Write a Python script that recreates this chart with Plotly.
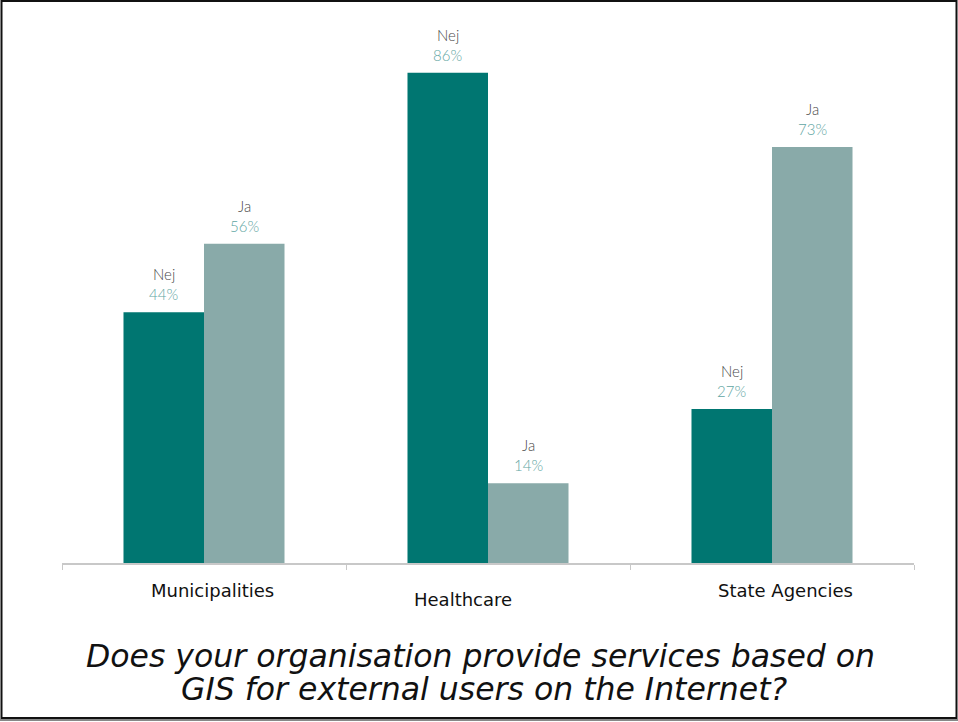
import plotly.graph_objects as go

# Survey results: share of organisations answering Nej / Ja
categories = ["Municipalities", "Healthcare", "State Agencies"]
nej_values = [44, 86, 27]
ja_values = [56, 14, 73]
series_names = ["Nej", "Ja"]
title_lines = [
    "Does your organisation provide services based on",
    "GIS for external users on the Internet?",
]

W, H = 958, 722
M_L, M_R, M_T, M_B = 62, 44, 50, 159

NEJ_COLOR = "#007671"
JA_COLOR = "#89AAA9"
NAME_COLOR = "#4a4a4a"
PCT_COLOR = "#5fa6a3"

fig = go.Figure()
fig.add_trace(go.Bar(x=categories, y=nej_values, name=series_names[0],
                     marker=dict(color=NEJ_COLOR, line=dict(width=0))))
fig.add_trace(go.Bar(x=categories, y=ja_values, name=series_names[1],
                     marker=dict(color=JA_COLOR, line=dict(width=0))))

annotations = []
half = 40.5
for series, values, shift in ((series_names[0], nej_values, -half),
                              (series_names[1], ja_values, half)):
    for cat, v in zip(categories, values):
        annotations.append(dict(
            x=cat, y=v, xref="x", yref="y", text=f"{v}%", showarrow=False,
            xshift=shift, yshift=7, yanchor="bottom",
            font=dict(family="Lato", size=15, color=PCT_COLOR, weight=300)))
        annotations.append(dict(
            x=cat, y=v, xref="x", yref="y", text=series, showarrow=False,
            xshift=shift, yshift=27, yanchor="bottom",
            font=dict(family="Lato", size=15, color=NAME_COLOR, weight=300)))

# Category captions below the axis
cat_offsets = [(8, -15), (-25, -24), (13, -15)]
for cat, (dx, dy) in zip(categories, cat_offsets):
    annotations.append(dict(
        x=cat, y=0, xref="x", yref="paper", text=cat, showarrow=False,
        xshift=dx, yshift=dy, yanchor="top",
        font=dict(family="DejaVu Sans", size=18, color="#111111")))

# Question as caption at the bottom
pw = W - M_L - M_R
ph = H - M_T - M_B
def px_x(p):
    return (p - M_L) / pw
def px_y(p):
    return (H - M_B - p) / ph

for line, xc, yc in zip(title_lines, (480, 484), (656, 689)):
    annotations.append(dict(
        x=px_x(xc), y=px_y(yc), xref="paper", yref="paper", text=f"<i>{line}</i>",
        showarrow=False, xanchor="center", yanchor="middle",
        font=dict(family="DejaVu Sans", size=31.5, color="#111111")))

# Frame around the figure
shapes = [
    dict(type="rect", xref="paper", yref="paper",
         x0=px_x(1.5), x1=px_x(956.5), y0=px_y(1), y1=px_y(718),
         line=dict(color="#111111", width=2), fillcolor="rgba(0,0,0,0)", layer="above"),
    dict(type="line", xref="paper", yref="paper",
         x0=px_x(0), x1=px_x(958), y0=px_y(720), y1=px_y(720),
         line=dict(color="#888888", width=2)),
]

fig.update_layout(
    width=W, height=H,
    margin=dict(l=M_L, r=M_R, t=M_T, b=M_B),
    paper_bgcolor="white", plot_bgcolor="white",
    barmode="group", bargap=0.433, bargroupgap=0,
    showlegend=False,
    xaxis=dict(showline=True, linecolor="#c8c8c8", linewidth=1.5,
               ticks="outside", tickson="boundaries", ticklen=5, tickcolor="#c8c8c8",
               showticklabels=False, showgrid=False, zeroline=False,
               range=[-0.5, 2.5]),
    yaxis=dict(range=[0, 90], visible=False, showgrid=False, zeroline=False),
    annotations=annotations,
    shapes=shapes,
)

fig.write_html("out.html")
